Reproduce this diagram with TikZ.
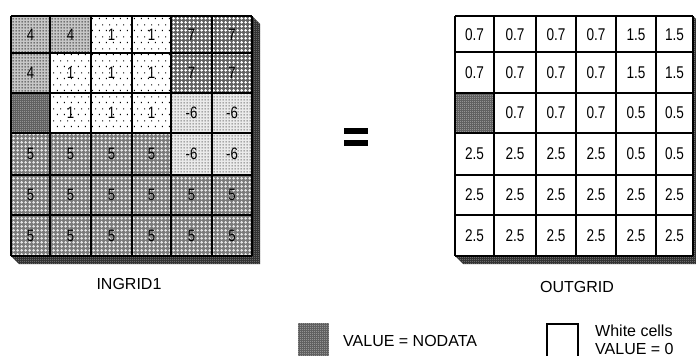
\documentclass[tikz,border=0pt]{standalone}
\usepackage{fontspec}
\setmainfont{Liberation Sans}
\newfontfamily\narrowsans[FakeStretch=0.8]{Liberation Sans}
\usetikzlibrary{patterns.meta}

% small square dots, 3pt lattice
\pgfdeclarepattern{name=dotsthree, type=uncolored,
  bottom left={\pgfpoint{0pt}{0pt}}, top right={\pgfpoint{3pt}{3pt}},
  tile size={\pgfpoint{3pt}{3pt}},
  code={\pgfpathrectangle{\pgfpoint{0.8pt}{0.8pt}}{\pgfpoint{1.4pt}{1.4pt}}\pgfusepath{fill}}}
% sparse staggered dots
\pgfdeclarepattern{name=sparsedots, type=uncolored,
  bottom left={\pgfpoint{0pt}{0pt}}, top right={\pgfpoint{7pt}{12pt}},
  tile size={\pgfpoint{7pt}{12pt}},
  code={\pgfpathrectangle{\pgfpoint{1pt}{1pt}}{\pgfpoint{1.2pt}{1.2pt}}
        \pgfpathrectangle{\pgfpoint{4.5pt}{7pt}}{\pgfpoint{1.2pt}{1.2pt}}\pgfusepath{fill}}}
% small plus signs on a 4pt lattice
\pgfdeclarepattern{name=plusfour, type=uncolored,
  bottom left={\pgfpoint{0pt}{0pt}}, top right={\pgfpoint{4pt}{4pt}},
  tile size={\pgfpoint{4pt}{4pt}},
  code={\pgfpathrectangle{\pgfpoint{1.5pt}{0.5pt}}{\pgfpoint{1pt}{3pt}}
        \pgfpathrectangle{\pgfpoint{0.5pt}{1.5pt}}{\pgfpoint{3pt}{1pt}}\pgfusepath{fill}}}
% fine dots, 2pt lattice
\pgfdeclarepattern{name=dotstwo, type=uncolored,
  bottom left={\pgfpoint{0pt}{0pt}}, top right={\pgfpoint{2pt}{2pt}},
  tile size={\pgfpoint{2pt}{2pt}},
  code={\pgfpathrectangle{\pgfpoint{0.5pt}{0.5pt}}{\pgfpoint{0.9pt}{0.9pt}}\pgfusepath{fill}}}

\tikzset{
  vfour/.style={preaction={fill=black!22}, pattern=dotsthree, pattern color=black},
  vone/.style={preaction={fill=white}, pattern=sparsedots, pattern color=black},
  vseven/.style={preaction={fill=black!62}, pattern=plusfour, pattern color=white},
  vsix/.style={preaction={fill=black!8}, pattern=dotsthree, pattern color=black!70},
  vfive/.style={preaction={fill=black!52}, pattern=plusfour, pattern color=white!90!black},
  vnodata/.style={preaction={fill=black!62}, pattern=dotstwo, pattern color=white!85!black},
  vwhite/.style={fill=white},
  slab/.style={preaction={fill=black!80}, pattern=dotstwo, pattern color=white!70!black},
  gridline/.style={line width=1.3pt, black},
  numL/.style={inner sep=0pt, font=\narrowsans\fontsize{16.5}{16.5}\selectfont},
  numR/.style={inner sep=0pt, font=\narrowsans\fontsize{17}{17}\selectfont},
  caption/.style={inner sep=0pt, font=\fontsize{16}{16}\selectfont},
}

% column and row lines of the two grids
\def\lx{{11,50,91,132,171,212,252}}
\def\rx{{455,494,536,576,616,656,693}}
\def\gy{{16,53,93,133,175,215,256}}

% one cell: grid letter, x list, row, column, style, value
\newcommand\gridcell[6]{%
  \pgfmathsetmacro\xa{#2[#4-1]}\pgfmathsetmacro\xb{#2[#4]}%
  \pgfmathsetmacro\ya{\gy[#3-1]}\pgfmathsetmacro\yb{\gy[#3]}%
  \path[#5] (\xa,\ya) rectangle (\xb,\yb);
  \node[num#1] (#1-#3-#4) at ({(\xa+\xb)/2},{(\ya+\yb)/2}) {#6};
}

\begin{document}
\begin{tikzpicture}[x=1pt,y=-1pt]
\useasboundingbox[fill=white] (0,0) rectangle (696,356);

% ---- input grid ----
\path[slab] (11,256) -- (19,264) -- (260,264) -- (260,24) -- (252,16) -- (252,256) -- cycle;
\foreach \c/\s/\v in {1/vfour/4,2/vfour/4,3/vone/1,4/vone/1,5/vseven/7,6/vseven/7}
  {\gridcell{L}{\lx}{1}{\c}{\s}{\v}}
\foreach \c/\s/\v in {1/vfour/4,2/vone/1,3/vone/1,4/vone/1,5/vseven/7,6/vseven/7}
  {\gridcell{L}{\lx}{2}{\c}{\s}{\v}}
\foreach \c/\s/\v in {1/vnodata/{},2/vone/1,3/vone/1,4/vone/1,5/vsix/-6,6/vsix/-6}
  {\gridcell{L}{\lx}{3}{\c}{\s}{\v}}
\foreach \c/\s/\v in {1/vfive/5,2/vfive/5,3/vfive/5,4/vfive/5,5/vsix/-6,6/vsix/-6}
  {\gridcell{L}{\lx}{4}{\c}{\s}{\v}}
\foreach \r in {5,6}
  \foreach \c in {1,...,6}
    {\gridcell{L}{\lx}{\r}{\c}{vfive}{5}}
\foreach \x in {11,50,91,132,171,212,252}
  \draw[gridline] (\x,16) -- (\x,256);
\foreach \y in {16,53,93,133,175,215,256}
  \draw[gridline] (11,\y) -- (252,\y);
\node[caption] (ingrid) at (129,284) {INGRID1};

% ---- equals sign ----
\fill[black] (344,128) rectangle (368,134);
\fill[black] (344,139.5) rectangle (368,145.5);

% ---- output grid ----
\path[slab] (455,256) -- (463,264) -- (701,264) -- (701,24) -- (693,16) -- (693,256) -- cycle;
\foreach \c/\v in {1/0.7,2/0.7,3/0.7,4/0.7,5/1.5,6/1.5}
  {\gridcell{R}{\rx}{1}{\c}{vwhite}{\v}}
\foreach \c/\v in {1/0.7,2/0.7,3/0.7,4/0.7,5/1.5,6/1.5}
  {\gridcell{R}{\rx}{2}{\c}{vwhite}{\v}}
\gridcell{R}{\rx}{3}{1}{vnodata}{}
\foreach \c/\v in {2/0.7,3/0.7,4/0.7,5/0.5,6/0.5}
  {\gridcell{R}{\rx}{3}{\c}{vwhite}{\v}}
\foreach \c/\v in {1/2.5,2/2.5,3/2.5,4/2.5,5/0.5,6/0.5}
  {\gridcell{R}{\rx}{4}{\c}{vwhite}{\v}}
\foreach \r in {5,6}
  \foreach \c in {1,...,6}
    {\gridcell{R}{\rx}{\r}{\c}{vwhite}{2.5}}
\foreach \x in {455,494,536,576,616,656,693}
  \draw[gridline] (\x,16) -- (\x,256);
\foreach \y in {16,52,93,133,175,215,256}
  \draw[gridline] (455,\y) -- (693,\y);
\node[caption] (outgrid) at (577,286.5) {OUTGRID};

% ---- legend ----
\path[vnodata] (298,323) rectangle (329,357);
\node[caption, anchor=west] (nodatakey) at (343,340.5) {VALUE = NODATA};
\draw[line width=1.3pt, fill=white] (547,324) rectangle (578,358);
\node[caption, anchor=west] (whitekey) at (595,331) {White cells};
\node[caption, anchor=west] (zerokey) at (595,349) {VALUE = 0};
\end{tikzpicture}
\end{document}
